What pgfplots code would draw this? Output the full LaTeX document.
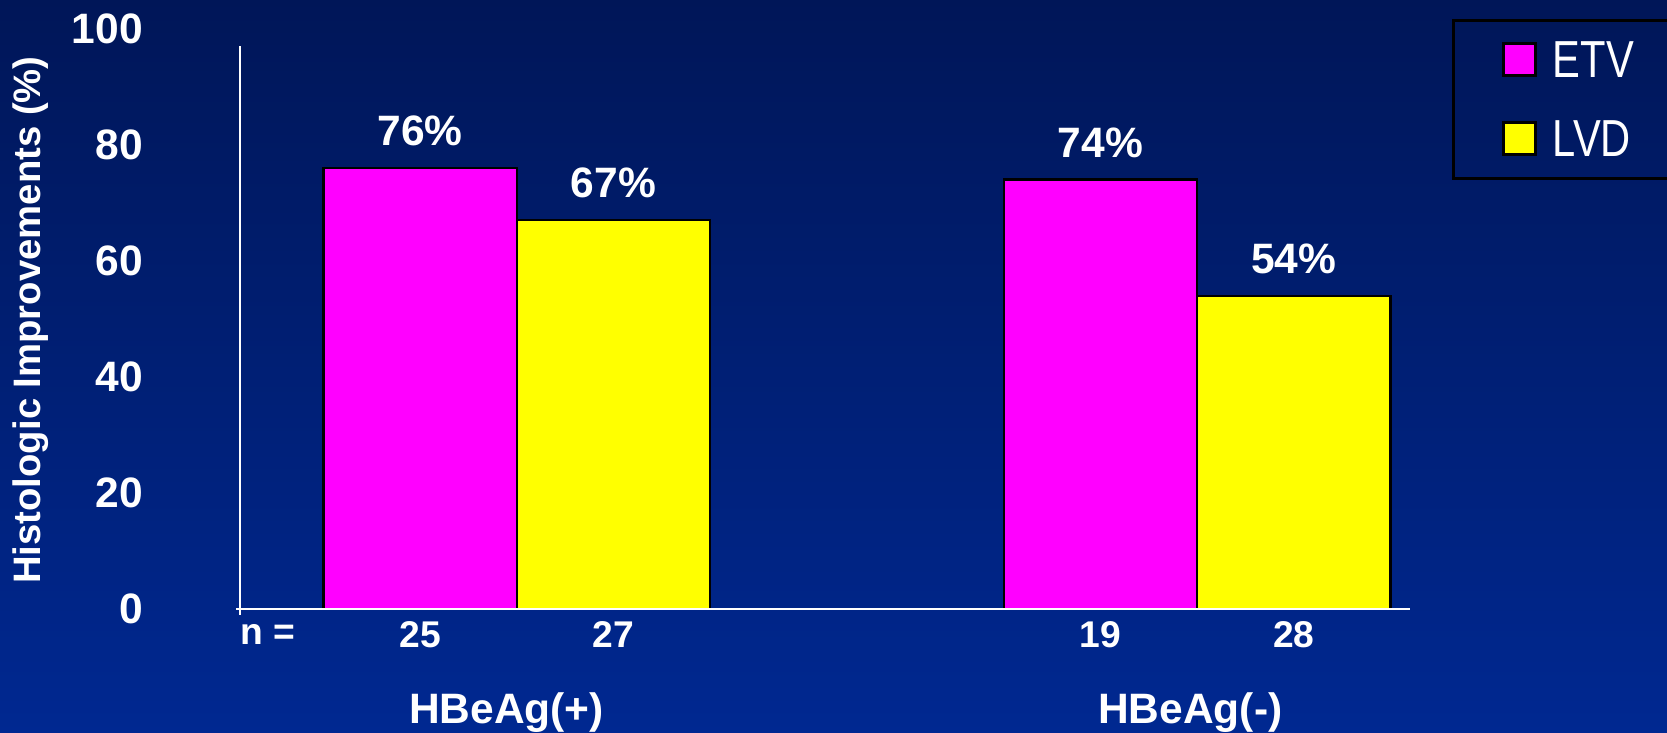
\documentclass[border=0pt]{standalone}
\usepackage{pgfplots}
\pgfplotsset{compat=1.18}
\usepackage{graphicx}
\usepackage{fontspec}
\setmainfont{Liberation Sans}
\definecolor{bgtop}{RGB}{0,22,88}
\definecolor{bgbot}{RGB}{0,40,145}
\definecolor{etv}{RGB}{255,0,255}
\definecolor{lvd}{RGB}{255,255,0}
\begin{document}
\begin{tikzpicture}[x=1pt,y=1pt]
\shade[top color=bgtop,bottom color=bgbot] (0,0) rectangle (470.4,206.7);
\begin{axis}[
  at={(67.8pt,34.8pt)}, anchor=south west,
  scale only axis, width=330pt, height=163.8pt,
  xmin=-0.40625, xmax=1.3125, ymin=0, ymax=100,
  axis line style={draw=none}, major tick style={draw=none},
  /pgf/number format/assume math mode=true,
  ytick={0,20,40,60,80,100},
  yticklabels={0,20,40,60,80,100},
  yticklabel style={font=\fontsize{12}{14}\selectfont\bfseries, text=white, anchor=east, inner sep=0pt, xshift=-27.3pt},
  xtick={-0.142,0.142,0.858,1.142},
  xticklabels={25,27,19,28},
  xticklabel style={font=\fontsize{10.5}{12}\selectfont\bfseries, text=white, anchor=center, yshift=-7.2pt},
  clip=false,
  nodes near coords={\pgfmathprintnumber{\pgfplotspointmeta}\%},
  every node near coord/.append style={font=\fontsize{12}{14}\selectfont\bfseries, text=white, anchor=center, yshift=10.5pt},
]
\addplot[ybar, bar width=0.284, bar shift=0pt, fill=etv, draw=black, line width=0.65pt]
  coordinates {(-0.142,76) (0.858,74)};
\addplot[ybar, bar width=0.284, bar shift=0pt, fill=lvd, draw=black, line width=0.65pt]
  coordinates {(0.142,67) (1.142,54)};
\draw[white, line width=0.6pt] (axis cs:-0.4125,0) -- (axis cs:1.3125,0);
\draw[white, line width=0.5pt] (axis cs:-0.40625,-1) -- (axis cs:-0.40625,97);
\node[white, font=\fontsize{10.5}{12}\selectfont\bfseries] at (axis cs:-0.366,0) [yshift=-7.2pt] {n =};
\node[white, anchor=base, font=\fontsize{12}{14}\selectfont\bfseries] at (axis cs:-0.015,0) [yshift=-32.3pt] {HBeAg(+)};
\node[white, anchor=base, font=\fontsize{12}{14}\selectfont\bfseries] at (axis cs:0.99,0) [yshift=-32.3pt] {HBeAg(-)};
\end{axis}
\node[white, rotate=90, font=\fontsize{10.8}{12}\selectfont\bfseries] at (8.7,116.4) {Histologic Improvements (\%)};
\draw[black, line width=0.9pt] (410.1,156.3) rectangle (480,201);
\filldraw[fill=etv, draw=black, line width=0.85pt] (424.2,185.4) rectangle (433.2,194.4);
\filldraw[fill=lvd, draw=black, line width=0.85pt] (424.2,163.2) rectangle (433.2,172.2);
\node[white, anchor=west, inner sep=0pt, font=\fontsize{14.7}{16}\selectfont] at (438,189.9) {\scalebox{0.8}[1]{ETV}};
\node[white, anchor=west, inner sep=0pt, font=\fontsize{14.7}{16}\selectfont] at (438,167.7) {\scalebox{0.8}[1]{LVD}};
\pgfresetboundingbox
\useasboundingbox (0,0) rectangle (470.4,206.7);
\end{tikzpicture}
\end{document}
